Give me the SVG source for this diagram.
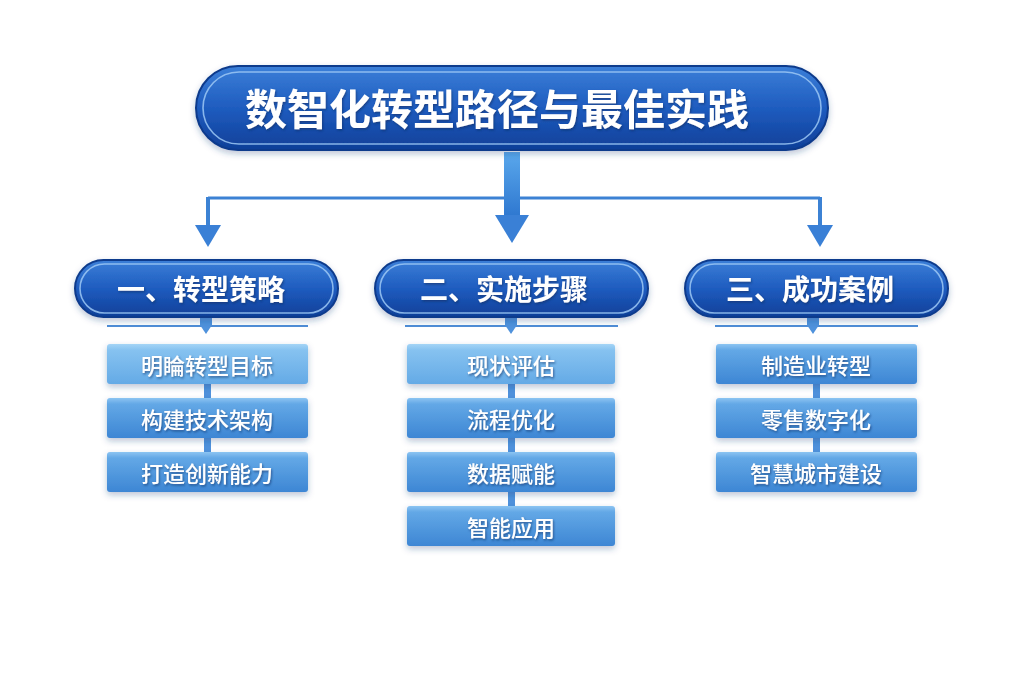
<svg xmlns="http://www.w3.org/2000/svg" width="1024" height="683" viewBox="0 0 1024 683">
<defs>
<linearGradient id="gPill" x1="0" y1="0" x2="0" y2="1">
<stop offset="0" stop-color="#3b7fd8"/>
<stop offset="0.5" stop-color="#1f5cbf"/>
<stop offset="1" stop-color="#0f3f98"/>
</linearGradient>
<linearGradient id="gItem1" x1="0" y1="0" x2="0" y2="1">
<stop offset="0" stop-color="#a4d4f6"/>
<stop offset="0.15" stop-color="#86c2f0"/>
<stop offset="1" stop-color="#64aae6"/>
</linearGradient>
<linearGradient id="gItem" x1="0" y1="0" x2="0" y2="1">
<stop offset="0" stop-color="#8cc4f2"/>
<stop offset="0.15" stop-color="#63a8e6"/>
<stop offset="1" stop-color="#3d86d4"/>
</linearGradient>
<linearGradient id="gStem" x1="0" y1="0" x2="0" y2="1">
<stop offset="0" stop-color="#5aa8ec"/>
<stop offset="1" stop-color="#2f78d0"/>
</linearGradient>
<filter id="shadow" x="-10%" y="-20%" width="120%" height="150%">
<feDropShadow dx="0" dy="3" stdDeviation="3" flood-color="#1a3f7a" flood-opacity="0.3"/>
</filter>
<filter id="tshadow" x="-10%" y="-30%" width="120%" height="160%">
<feDropShadow dx="1" dy="1.5" stdDeviation="0.8" flood-color="#0a2a60" flood-opacity="0.6"/>
</filter>
<style>
.pill{fill:url(#gPill);stroke:#0d3a8c;stroke-width:2;filter:url(#shadow)}
.pillin{fill:none;stroke:#9cc8f4;stroke-width:1.6;opacity:0.85}
.item1{fill:url(#gItem1);filter:url(#shadow)}
.item{fill:url(#gItem);filter:url(#shadow)}
.txt{font-family:"Noto Sans CJK SC","Noto Sans",sans-serif;font-weight:700;fill:#ffffff;text-anchor:middle;dominant-baseline:central;filter:url(#tshadow)}
.title{font-size:42px}
.cat{font-size:28px}
.it{font-size:22px;font-weight:500}
.ln{stroke:#3c82d4;fill:none}
.ar{fill:#3a80d6}
.ul{stroke:#4f8ed6;stroke-width:2}
.sm{fill:#4f92dc}
</style>
</defs>
<rect width="1024" height="683" fill="#ffffff"/>

<g id="connectors">
<line class="ln" x1="208" y1="198" x2="820" y2="198" stroke-width="3"/>
<line class="ln" x1="208" y1="197" x2="208" y2="226" stroke-width="4"/>
<polygon class="ar" points="195,225 221,225 208,247"/>
<line class="ln" x1="820" y1="197" x2="820" y2="226" stroke-width="4"/>
<polygon class="ar" points="807,225 833,225 820,247"/>
<rect x="504" y="152" width="16" height="64" fill="url(#gStem)"/>
<polygon class="ar" points="495,215 529,215 512,243"/>
<line class="ul" x1="107" y1="326" x2="308" y2="326"/>
<polygon class="sm" points="200,317 212,317 212,325 206,334 200,325"/>
<line class="ul" x1="405" y1="326" x2="618" y2="326"/>
<polygon class="sm" points="505,317 517,317 517,325 511,334 505,325"/>
<line class="ul" x1="715" y1="326" x2="918" y2="326"/>
<polygon class="sm" points="807,317 819,317 819,325 813,334 807,325"/>
<rect class="sm" x="204" y="383" width="7" height="16"/>
<rect class="sm" x="204" y="437" width="7" height="16"/>
<rect class="sm" x="508" y="383" width="7" height="16"/>
<rect class="sm" x="508" y="437" width="7" height="16"/>
<rect class="sm" x="508" y="491" width="7" height="16"/>
<rect class="sm" x="813" y="383" width="7" height="16"/>
<rect class="sm" x="813" y="437" width="7" height="16"/>
</g>

<g id="title">
<rect class="pill" x="196" y="66" width="632" height="84" rx="42"/>
<rect class="pillin" x="203" y="72" width="618" height="72" rx="36"/>
<text class="txt title" x="497" y="106">数智化转型路径与最佳实践</text>
</g>

<g id="cat1">
<rect class="pill" x="75" y="260" width="263" height="57" rx="28.5"/>
<rect class="pillin" x="80" y="264" width="253" height="49" rx="24.5"/>
<text class="txt cat" x="201" y="288">一、转型策略</text>
</g>
<g id="cat2">
<rect class="pill" x="375" y="260" width="273" height="57" rx="28.5"/>
<rect class="pillin" x="380" y="264" width="263" height="49" rx="24.5"/>
<text class="txt cat" x="504" y="288">二、实施步骤</text>
</g>
<g id="cat3">
<rect class="pill" x="685" y="260" width="263" height="57" rx="28.5"/>
<rect class="pillin" x="690" y="264" width="253" height="49" rx="24.5"/>
<text class="txt cat" x="810" y="288">三、成功案例</text>
</g>

<g id="item1-1"><rect class="item1" x="107" y="344" width="201" height="40" rx="3"/><text class="txt it" x="207" y="364">明睔转型目标</text></g>
<g id="item1-2"><rect class="item" x="107" y="398" width="201" height="40" rx="3"/><text class="txt it" x="207" y="418">构建技术架构</text></g>
<g id="item1-3"><rect class="item" x="107" y="452" width="201" height="40" rx="3"/><text class="txt it" x="207" y="472">打造创新能力</text></g>

<g id="item2-1"><rect class="item1" x="407" y="344" width="208" height="40" rx="3"/><text class="txt it" x="511" y="364">现状评估</text></g>
<g id="item2-2"><rect class="item" x="407" y="398" width="208" height="40" rx="3"/><text class="txt it" x="511" y="418">流程优化</text></g>
<g id="item2-3"><rect class="item" x="407" y="452" width="208" height="40" rx="3"/><text class="txt it" x="511" y="472">数据赋能</text></g>
<g id="item2-4"><rect class="item" x="407" y="506" width="208" height="40" rx="3"/><text class="txt it" x="511" y="526">智能应用</text></g>

<g id="item3-1"><rect class="item" x="716" y="344" width="201" height="40" rx="3"/><text class="txt it" x="816" y="364">制造业转型</text></g>
<g id="item3-2"><rect class="item" x="716" y="398" width="201" height="40" rx="3"/><text class="txt it" x="816" y="418">零售数字化</text></g>
<g id="item3-3"><rect class="item" x="716" y="452" width="201" height="40" rx="3"/><text class="txt it" x="816" y="472">智慧城市建设</text></g>
</svg>
